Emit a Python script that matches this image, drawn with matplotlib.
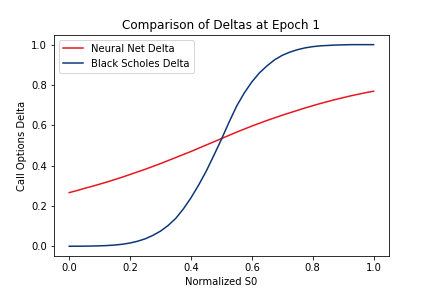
import numpy as np
import matplotlib
matplotlib.use("Agg")
import matplotlib.pyplot as plt

# normalized S0 grid (step 0.025) and the two delta curves
s0 = np.linspace(0, 1, 41)
nn_delta = [0.266, 0.276, 0.287, 0.297, 0.308, 0.319, 0.331, 0.343, 0.356, 0.369,
            0.382, 0.396, 0.410, 0.425, 0.440, 0.455, 0.470, 0.486, 0.502, 0.518,
            0.534, 0.550, 0.566, 0.581, 0.596, 0.610, 0.624, 0.637, 0.650, 0.662,
            0.674, 0.686, 0.697, 0.708, 0.718, 0.728, 0.737, 0.746, 0.754, 0.762,
            0.769]
bs_delta = [0.000, 0.0001, 0.0004, 0.001, 0.002, 0.0035, 0.006, 0.010, 0.016, 0.025,
            0.037, 0.054, 0.075, 0.103, 0.138, 0.185, 0.240, 0.303, 0.372, 0.450,
            0.530, 0.615, 0.695, 0.760, 0.815, 0.860, 0.895, 0.925, 0.947, 0.963,
            0.975, 0.984, 0.990, 0.994, 0.996, 0.998, 0.999, 1.000, 1.000, 1.000,
            1.000]

plt.figure(figsize=(6, 4), dpi=72)
plt.plot(s0, nn_delta, color='#e8141e', label='Neural Net Delta')
plt.plot(s0, bs_delta, color='#0b3577', label='Black Scholes Delta')

plt.title("Comparison of Deltas at Epoch 1")
plt.xlabel("Normalized S0")
plt.ylabel("Call Options Delta")
plt.legend(loc='upper left')
plt.savefig("out.png", dpi=72)
